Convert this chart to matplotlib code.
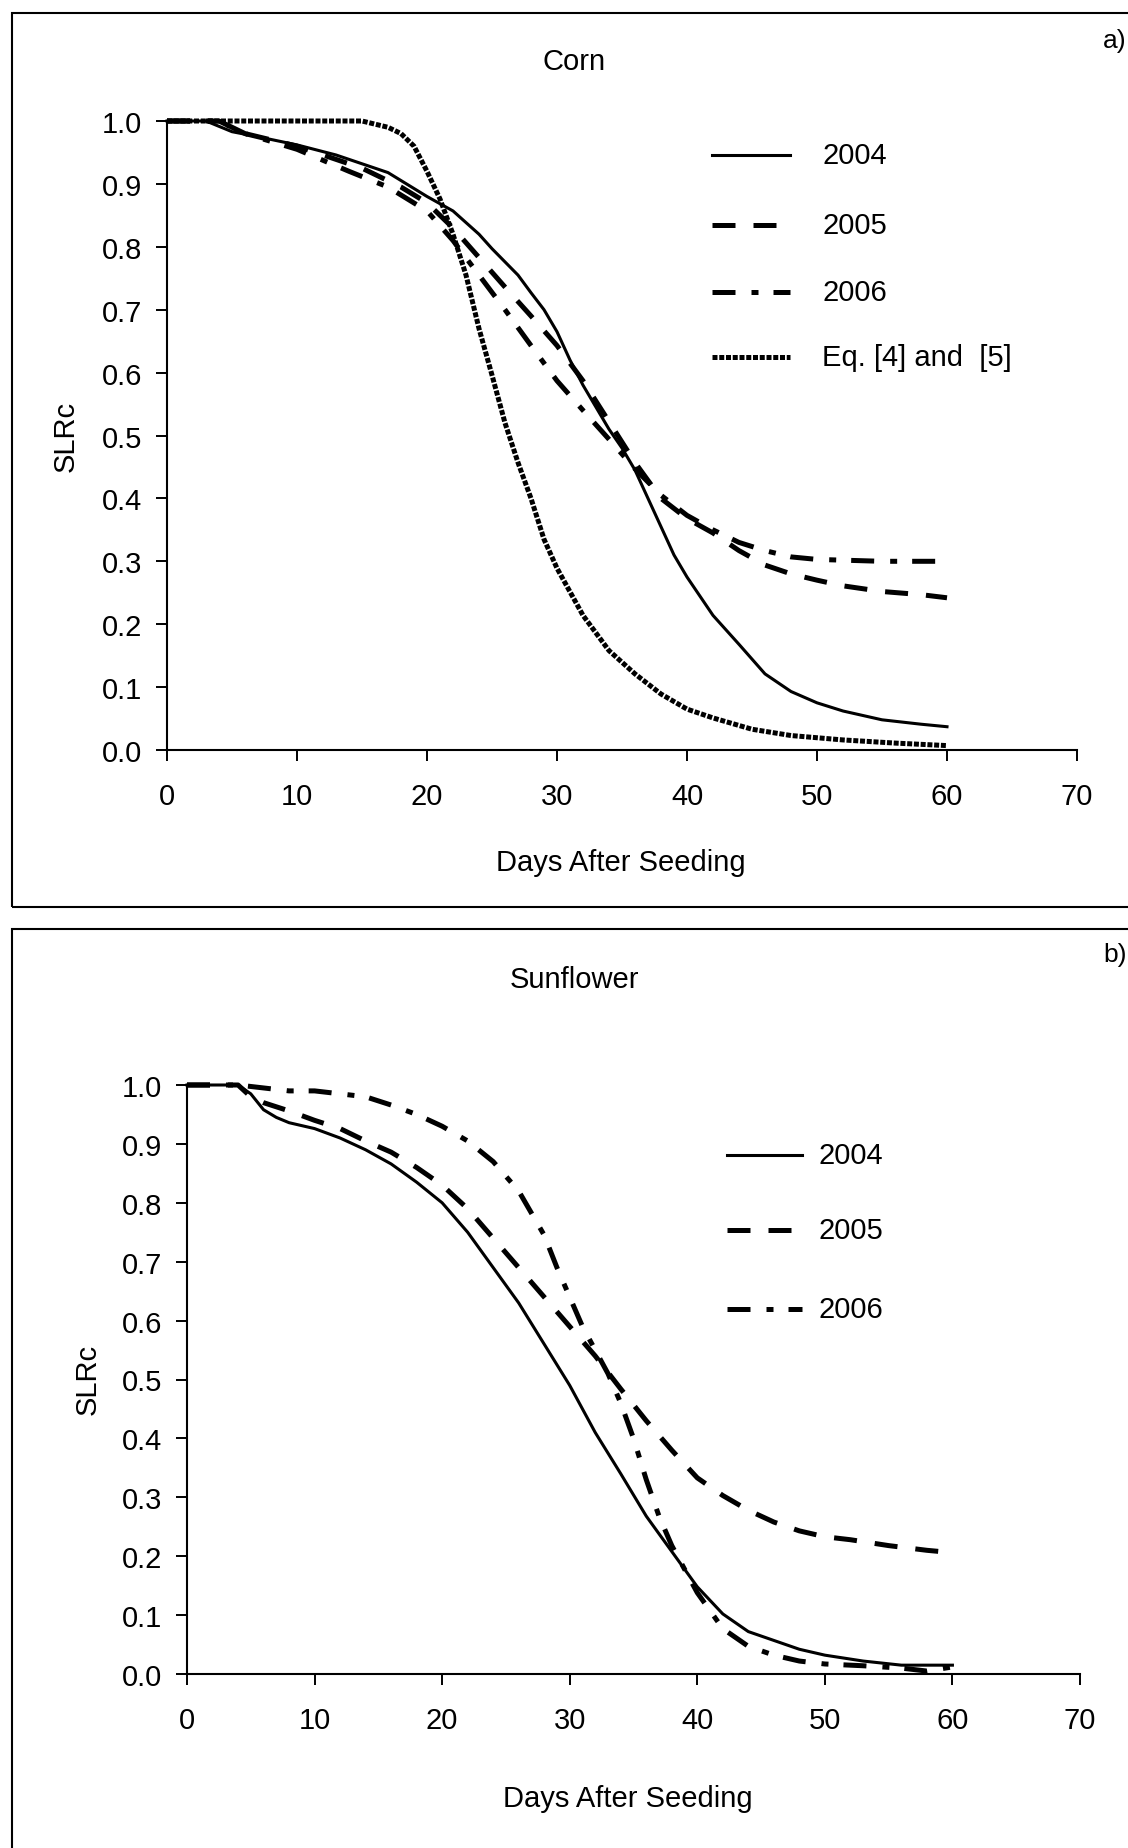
import matplotlib
matplotlib.use("Agg")
import matplotlib.pyplot as plt
from matplotlib.lines import Line2D
from matplotlib.patches import Rectangle

plt.rcParams['font.family'] = ['Liberation Sans', 'DejaVu Sans']

W, H = 1128, 1849

# ---------------- data ----------------
corn_2004_days = [0, 3, 5, 7, 10, 13, 15, 17, 20, 22, 24, 25, 27, 28, 29, 30, 31, 32, 33, 34, 35,
                  36, 37, 38, 39, 40, 42, 44, 46, 48, 50, 52, 55, 58, 60]
corn_2004 = [1.0, 1.0, 0.983, 0.975, 0.962, 0.946, 0.932, 0.918, 0.88, 0.857, 0.82, 0.797, 0.755,
             0.727, 0.70, 0.665, 0.62, 0.58, 0.545, 0.51, 0.48, 0.445, 0.40, 0.355, 0.31, 0.275,
             0.214, 0.168, 0.121, 0.093, 0.075, 0.062, 0.048, 0.041, 0.037]

corn_2005_days = [0, 4, 6, 10, 15, 18, 20, 22, 24, 26, 28, 30, 32, 34, 36, 38, 40, 42, 44, 46, 48,
                  50, 52, 55, 58, 60]
corn_2005 = [1.0, 1.0, 0.98, 0.96, 0.925, 0.895, 0.87, 0.83, 0.783, 0.736, 0.69, 0.643, 0.587,
             0.522, 0.457, 0.40, 0.368, 0.345, 0.317, 0.294, 0.28, 0.27, 0.261, 0.252, 0.247, 0.242]

corn_2006_days = [0, 4, 6, 10, 14, 17, 20, 22, 24, 26, 28, 30, 32, 34, 36, 38, 40, 42, 44, 46, 48,
                  50, 55, 60]
corn_2006 = [1.0, 1.0, 0.98, 0.955, 0.92, 0.895, 0.857, 0.81, 0.755, 0.70, 0.643, 0.587, 0.54,
             0.494, 0.447, 0.405, 0.373, 0.35, 0.33, 0.317, 0.307, 0.303, 0.30, 0.30]

corn_eq_days = [0, 15, 16, 17, 18, 19, 20, 21, 22, 23, 24, 25, 26, 27, 28, 29, 30, 32, 34, 36, 38,
                40, 42, 45, 48, 52, 56, 60]
corn_eq = [1.0, 1.0, 0.995, 0.99, 0.98, 0.96, 0.92, 0.876, 0.82, 0.755, 0.67, 0.596, 0.52, 0.457,
           0.40, 0.335, 0.289, 0.214, 0.158, 0.121, 0.089, 0.065, 0.051, 0.033, 0.023, 0.016,
           0.011, 0.007]

sun_2004_days = [0, 4, 5, 6, 7, 8, 10, 12, 14, 16, 18, 20, 22, 24, 26, 28, 30, 32, 34, 36, 38, 40,
                 42, 44, 46, 48, 50, 53, 56, 60]
sun_2004 = [1.0, 1.0, 0.985, 0.958, 0.945, 0.936, 0.926, 0.91, 0.89, 0.866, 0.835, 0.80, 0.75, 0.69,
            0.63, 0.56, 0.49, 0.41, 0.34, 0.268, 0.208, 0.148, 0.102, 0.072, 0.057, 0.042, 0.032,
            0.022, 0.015, 0.015]

sun_2005_days = [0, 4, 5, 6, 8, 10, 12, 14, 16, 18, 20, 22, 24, 26, 28, 30, 32, 34, 36, 38, 40, 42,
                 44, 46, 48, 50, 52, 55, 58, 60]
sun_2005 = [1.0, 1.0, 0.98, 0.97, 0.956, 0.94, 0.926, 0.905, 0.886, 0.86, 0.83, 0.79, 0.74, 0.69,
            0.64, 0.59, 0.54, 0.484, 0.43, 0.38, 0.333, 0.303, 0.278, 0.258, 0.243, 0.233, 0.228,
            0.218, 0.21, 0.206]

sun_2006_days = [0, 4, 6, 8, 10, 12, 14, 16, 18, 20, 22, 24, 26, 28, 29, 30, 31, 32, 33, 34, 35,
                 36, 37, 38, 40, 42, 44, 46, 48, 50, 53, 56, 58, 60]
sun_2006 = [1.0, 1.0, 0.995, 0.99, 0.99, 0.985, 0.98, 0.966, 0.95, 0.93, 0.905, 0.87, 0.82, 0.745,
            0.69, 0.64, 0.59, 0.55, 0.51, 0.46, 0.40, 0.33, 0.268, 0.218, 0.138, 0.077, 0.047,
            0.032, 0.022, 0.017, 0.014, 0.01, 0.005, 0.012]

x_ticks = [0, 10, 20, 30, 40, 50, 60, 70]
y_ticks = [0.0, 0.1, 0.2, 0.3, 0.4, 0.5, 0.6, 0.7, 0.8, 0.9, 1.0]

# ---------------- styles ----------------
STYLES = {
    "2004": dict(linestyle="-", lw=2.2),
    "2005": dict(linestyle=(0, (4.6, 3.6)), lw=3.6),
    "2006": dict(linestyle=(0, (4.6, 3.2, 1.4, 3.0)), lw=3.6),
    "Eq. [4] and  [5]": dict(linestyle=(0, (1.0, 0.35)), lw=3.6),
}
FS = 21

fig = plt.figure(figsize=(W / 100, H / 100), dpi=100)
fig.patch.set_facecolor("white")


def fx(px):
    return px / W


def fy(py):
    return 1 - py / H


def panel(box, series, title, title_xy, tag_y, legend_x, legend_rows, xlab_xy, ylab_xy):
    left, top, right, bottom = box
    ax = fig.add_axes([fx(left), fy(bottom), fx(right - left), (bottom - top) / H])
    for label, days, vals in series:
        ax.plot(days, vals, color="black", clip_on=False, **STYLES[label])
    ax.set_xlim(0, 70)
    ax.set_ylim(0, 1.0)
    ax.set_xticks(x_ticks)
    ax.set_yticks(y_ticks)
    ax.set_yticklabels([f"{v:.1f}" for v in y_ticks])
    for s in ("top", "right"):
        ax.spines[s].set_visible(False)
    for s in ("left", "bottom"):
        ax.spines[s].set_linewidth(1.5)
    ax.tick_params(axis="both", direction="out", length=8, width=1.4, labelsize=FS)
    ax.tick_params(axis="x", pad=15)
    ax.tick_params(axis="y", pad=10)

    ax.set_xlabel("Days After Seeding", fontsize=FS, va="center", ha="center")
    ax.xaxis.set_label_coords((xlab_xy[0] - left) / (right - left),
                              (bottom - xlab_xy[1]) / (bottom - top))
    ax.set_ylabel("SLRc", fontsize=FS, va="center", ha="center")
    ax.yaxis.set_label_coords((ylab_xy[0] - left) / (right - left),
                              (bottom - ylab_xy[1]) / (bottom - top))

    fig.text(fx(title_xy[0]), fy(title_xy[1]), title, fontsize=FS, ha="center", va="center")
    fig.text(fx(1103), fy(tag_y), "a)" if title == "Corn" else "b)", fontsize=FS - 2,
             ha="left", va="center")

    # legend drawn by hand: short line sample + label
    for (label, _, _), ry in zip(series, legend_rows):
        fig.add_artist(Line2D([fx(legend_x[0]), fx(legend_x[1])], [fy(ry), fy(ry)],
                              color="black", transform=fig.transFigure, **STYLES[label]))
        fig.text(fx(legend_x[2]), fy(ry), label, fontsize=FS, ha="left", va="center")
    return ax


panel((167, 122, 1077, 751),
      [("2004", corn_2004_days, corn_2004),
       ("2005", corn_2005_days, corn_2005),
       ("2006", corn_2006_days, corn_2006),
       ("Eq. [4] and  [5]", corn_eq_days, corn_eq)],
      "Corn", (574, 62), 41, (712, 790, 822), [156, 226, 293, 358],
      (621, 863), (66, 436))

panel((187, 1086, 1080, 1675),
      [("2004", sun_2004_days, sun_2004),
       ("2005", sun_2005_days, sun_2005),
       ("2006", sun_2006_days, sun_2006)],
      "Sunflower", (574, 980), 955, (727, 802, 818), [1156, 1231, 1310],
      (628, 1799), (88, 1379))

# panel frames (cut off on the right / bottom like the reference)
fig.add_artist(Rectangle((fx(12), fy(908)), fx(1140 - 12), (908 - 14) / H,
                         transform=fig.transFigure, fill=False, lw=1.5, edgecolor="black"))
fig.add_artist(Rectangle((fx(12), fy(1870)), fx(1140 - 12), (1870 - 930) / H,
                         transform=fig.transFigure, fill=False, lw=1.5, edgecolor="black"))

fig.savefig("out.png", dpi=100, facecolor="white")
